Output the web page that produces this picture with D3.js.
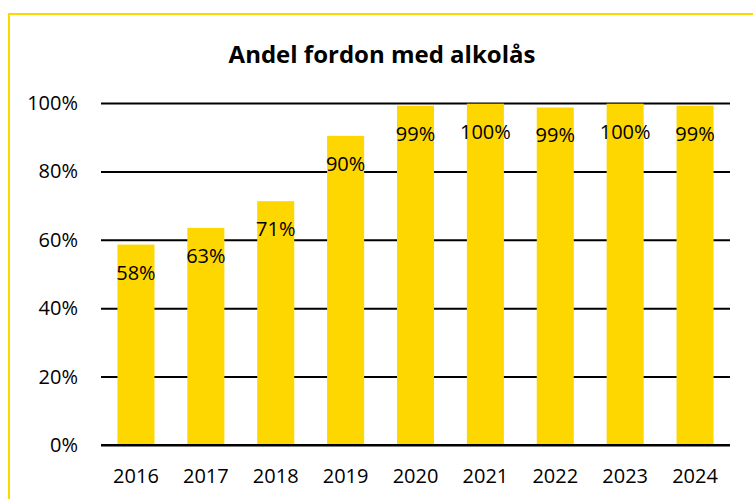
<!DOCTYPE html>
<html>
<head>
<meta charset="utf-8">
<script src="https://cdn.jsdelivr.net/npm/d3@7"></script>
<style>
  body { margin: 0; background: #fff; }
  svg { display: block; font-family: "Open Sans", sans-serif; }
</style>
</head>
<body>
<div id="chart"></div>
<script>
// Data
var years = ['2016', '2017', '2018', '2019', '2020', '2021', '2022', '2023', '2024'];
var shares = [58.6, 63.5, 71.3, 90.4, 99.2, 99.8, 98.7, 99.8, 99.2];
var shareLabels = ['58%', '63%', '71%', '90%', '99%', '100%', '99%', '100%', '99%'];
var yTicks = [0, 20, 40, 60, 80, 100];

var width = 753;
var height = 499;
var margins = { left: 101, right: 23, top: 103, bottom: 54 };

var svg = d3.select('#chart').append('svg')
            .attr('width', width)
            .attr('height', height);

// Yellow frame round the chart, running off the right and bottom edges
svg.append('rect')
   .attr('x', 9)
   .attr('y', 14)
   .attr('width', width + 20)
   .attr('height', height + 20)
   .style('fill', 'none')
   .style('stroke', '#FFD700')
   .style('stroke-width', 2);

var innerW = width - margins.left - margins.right;
var innerH = height - margins.top - margins.bottom;

var x = d3.scaleBand().domain(years).range([0, innerW]).paddingInner(0.47).paddingOuter(0.235);
var y = d3.scaleLinear().domain([0, 100]).range([innerH, 0]);

var g = svg.append('g')
           .attr('transform', 'translate(' + margins.left + ',' + margins.top + ')');

// Gridlines with percentage labels
var yAxis = d3.axisLeft(y)
              .tickValues(yTicks)
              .tickSizeInner(-innerW)
              .tickSizeOuter(0)
              .tickPadding(23)
              .tickFormat(function(d) { return d + '%'; });

var yg = g.append('g').call(yAxis);
yg.select('.domain').remove();
yg.selectAll('.tick line').style('stroke', '#000').style('stroke-width', 2);
yg.selectAll('.tick text')
  .style('font-size', '20px')
  .style('fill', '#000')
  .style('font-family', '"Open Sans", sans-serif');

// Bars
g.selectAll('rect.bar')
 .data(shares)
 .enter()
 .append('rect')
 .attr('class', 'bar')
 .attr('x', function(_, i) { return x(years[i]); })
 .attr('y', function(d) { return y(d); })
 .attr('width', x.bandwidth())
 .attr('height', function(d) { return innerH - y(d); })
 .style('fill', '#FFD700');

// redraw the baseline above the bars
g.append('line')
 .attr('x1', 0).attr('x2', innerW)
 .attr('y1', y(0)).attr('y2', y(0))
 .style('stroke', '#000').style('stroke-width', 2);

// Value labels just inside the top of each bar
g.selectAll('text.val')
 .data(shares)
 .enter()
 .append('text')
 .attr('class', 'val')
 .attr('x', function(_, i) { return x(years[i]) + x.bandwidth() / 2; })
 .attr('y', function(d) { return y(d) + 28; })
 .attr('dy', '0.35em')
 .attr('text-anchor', 'middle')
 .style('font-size', '20px')
 .style('fill', '#000')
 .text(function(_, i) { return shareLabels[i]; });

// Year labels
var xAxis = d3.axisBottom(x).tickSize(0).tickPadding(24);
var xg = g.append('g').attr('transform', 'translate(0,' + innerH + ')').call(xAxis);
xg.select('.domain').remove();
xg.selectAll('.tick text')
  .style('font-size', '20px')
  .style('fill', '#000')
  .style('font-family', '"Open Sans", sans-serif');

// Title
svg.append('text')
   .attr('x', 382)
   .attr('y', 63)
   .attr('text-anchor', 'middle')
   .style('font-size', '24px')
   .style('font-weight', 'bold')
   .style('fill', '#000')
   .text('Andel fordon med alkolås');
</script>
</body>
</html>
